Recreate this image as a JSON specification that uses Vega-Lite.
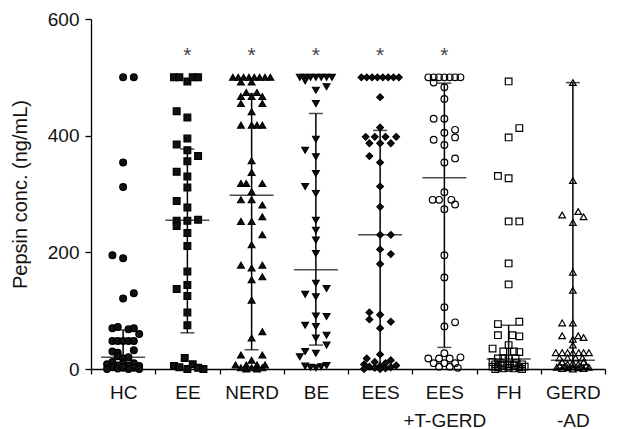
{
  "$schema": "https://vega.github.io/schema/vega-lite/v6.json",
  "autosize": {"type": "none"},
  "padding": {"left": 91, "top": 19, "right": 25, "bottom": 60},
  "width": 514,
  "height": 350,
  "background": "white",
  "config": {
    "view": {"stroke": null},
    "font": "Liberation Sans",
    "axis": {
      "domainColor": "black", "tickColor": "black", "labelColor": "#111", "titleColor": "#111",
      "labelFont": "Liberation Sans", "titleFont": "Liberation Sans",
      "labelFontSize": 19, "titleFontSize": 20, "titleFontWeight": "normal",
      "grid": false, "domainWidth": 1.3, "tickWidth": 1.3
    }
  },
  "datasets": {
    "pts": [
      {"g":"HC","v":500,"s":0},{"g":"HC","v":500,"s":2},{"g":"HC","v":354,"s":0},{"g":"HC","v":312,"s":0},
      {"g":"HC","v":195,"s":-2},{"g":"HC","v":190,"s":0},{"g":"HC","v":130,"s":2},{"g":"HC","v":121,"s":0},
      {"g":"HC","v":70,"s":-2},{"g":"HC","v":72,"s":-1},{"g":"HC","v":68,"s":1},{"g":"HC","v":70,"s":2},{"g":"HC","v":60,"s":3},
      {"g":"HC","v":48,"s":-2},{"g":"HC","v":48,"s":-1},{"g":"HC","v":48,"s":0},{"g":"HC","v":48,"s":1},{"g":"HC","v":48,"s":2},
      {"g":"HC","v":30,"s":-2},{"g":"HC","v":28,"s":-1},{"g":"HC","v":32,"s":2},{"g":"HC","v":22,"s":-1},{"g":"HC","v":18,"s":0},{"g":"HC","v":20,"s":1},
      {"g":"HC","v":12,"s":-2},{"g":"HC","v":10,"s":0},{"g":"HC","v":10,"s":2},{"g":"HC","v":8,"s":-3},{"g":"HC","v":6,"s":-1},{"g":"HC","v":6,"s":1},
      {"g":"HC","v":5,"s":3},{"g":"HC","v":3,"s":-2},{"g":"HC","v":2,"s":0},{"g":"HC","v":2,"s":2},{"g":"HC","v":1,"s":-1},{"g":"HC","v":0,"s":1},
      {"g":"HC","v":0,"s":-3},{"g":"HC","v":0,"s":3},{"g":"HC","v":4,"s":0},

      {"g":"EE","v":500,"s":-2.5},{"g":"EE","v":500,"s":-1.5},{"g":"EE","v":493,"s":0},{"g":"EE","v":500,"s":1},{"g":"EE","v":500,"s":2},
      {"g":"EE","v":442,"s":-2},{"g":"EE","v":431,"s":0},{"g":"EE","v":395,"s":0},{"g":"EE","v":385,"s":-2},{"g":"EE","v":375,"s":0},
      {"g":"EE","v":365,"s":2},{"g":"EE","v":356,"s":0},{"g":"EE","v":338,"s":-2},{"g":"EE","v":330,"s":0},{"g":"EE","v":311,"s":0},
      {"g":"EE","v":288,"s":-2},{"g":"EE","v":277,"s":0},{"g":"EE","v":254,"s":-2},{"g":"EE","v":254,"s":0},{"g":"EE","v":256,"s":2},
      {"g":"EE","v":245,"s":-2},{"g":"EE","v":233,"s":0},{"g":"EE","v":211,"s":0},{"g":"EE","v":167,"s":0},{"g":"EE","v":144,"s":0},
      {"g":"EE","v":137,"s":-2},{"g":"EE","v":125,"s":0},{"g":"EE","v":97,"s":0},{"g":"EE","v":75,"s":0},{"g":"EE","v":19,"s":-0.5},
      {"g":"EE","v":5,"s":-2.5},{"g":"EE","v":3,"s":-1.5},{"g":"EE","v":0,"s":0},{"g":"EE","v":8,"s":1},{"g":"EE","v":2,"s":2},{"g":"EE","v":0,"s":3},

      {"g":"NERD","v":500,"s":-3.5},{"g":"NERD","v":500,"s":-2.5},{"g":"NERD","v":500,"s":-1.5},{"g":"NERD","v":500,"s":-0.5},
      {"g":"NERD","v":500,"s":0.5},{"g":"NERD","v":500,"s":1.5},{"g":"NERD","v":500,"s":2.5},{"g":"NERD","v":500,"s":3.5},
      {"g":"NERD","v":492,"s":-2},{"g":"NERD","v":492,"s":0},{"g":"NERD","v":474,"s":-1},{"g":"NERD","v":474,"s":1},
      {"g":"NERD","v":467,"s":-2},{"g":"NERD","v":467,"s":0},{"g":"NERD","v":467,"s":2},{"g":"NERD","v":455,"s":-2},{"g":"NERD","v":455,"s":2},
      {"g":"NERD","v":441,"s":0},{"g":"NERD","v":418,"s":-2},{"g":"NERD","v":418,"s":0},{"g":"NERD","v":418,"s":1},{"g":"NERD","v":418,"s":2},
      {"g":"NERD","v":357,"s":0},{"g":"NERD","v":337,"s":0},{"g":"NERD","v":318,"s":-2},{"g":"NERD","v":318,"s":-1},{"g":"NERD","v":318,"s":2},
      {"g":"NERD","v":304,"s":0},{"g":"NERD","v":290,"s":-2},{"g":"NERD","v":290,"s":0},{"g":"NERD","v":281,"s":2},
      {"g":"NERD","v":261,"s":2},{"g":"NERD","v":253,"s":-2},{"g":"NERD","v":253,"s":0},{"g":"NERD","v":230,"s":2},{"g":"NERD","v":213,"s":0},
      {"g":"NERD","v":178,"s":-2},{"g":"NERD","v":178,"s":2},{"g":"NERD","v":173,"s":0},{"g":"NERD","v":158,"s":2},{"g":"NERD","v":153,"s":0},
      {"g":"NERD","v":118,"s":0},{"g":"NERD","v":64,"s":2},{"g":"NERD","v":53,"s":0},
      {"g":"NERD","v":24,"s":-2},{"g":"NERD","v":24,"s":2},{"g":"NERD","v":15,"s":0},{"g":"NERD","v":7,"s":-3},{"g":"NERD","v":7,"s":-1},
      {"g":"NERD","v":7,"s":1},{"g":"NERD","v":7,"s":2.5},{"g":"NERD","v":2,"s":-2},{"g":"NERD","v":2,"s":0},{"g":"NERD","v":2,"s":2},
      {"g":"NERD","v":0,"s":-1},{"g":"NERD","v":0,"s":1},

      {"g":"BE","v":500,"s":-3},{"g":"BE","v":500,"s":-2},{"g":"BE","v":500,"s":-1},{"g":"BE","v":500,"s":0},{"g":"BE","v":500,"s":1},
      {"g":"BE","v":500,"s":2},{"g":"BE","v":500,"s":3},{"g":"BE","v":494,"s":-2},{"g":"BE","v":484,"s":2},{"g":"BE","v":478,"s":0},
      {"g":"BE","v":455,"s":0},{"g":"BE","v":394,"s":0},{"g":"BE","v":375,"s":-2},{"g":"BE","v":364,"s":0},{"g":"BE","v":335,"s":0},
      {"g":"BE","v":313,"s":-2},{"g":"BE","v":301,"s":0},{"g":"BE","v":255,"s":0},{"g":"BE","v":238,"s":0},{"g":"BE","v":221,"s":0},
      {"g":"BE","v":198,"s":0},{"g":"BE","v":147,"s":0},{"g":"BE","v":138,"s":2},{"g":"BE","v":128,"s":-2},{"g":"BE","v":124,"s":0},
      {"g":"BE","v":91,"s":0},{"g":"BE","v":90,"s":2},{"g":"BE","v":75,"s":-2},{"g":"BE","v":73,"s":0},{"g":"BE","v":58,"s":2},
      {"g":"BE","v":53,"s":0},{"g":"BE","v":41,"s":2},{"g":"BE","v":30,"s":-2},{"g":"BE","v":27,"s":0},{"g":"BE","v":21,"s":-3},
      {"g":"BE","v":5,"s":-2},{"g":"BE","v":3,"s":-1},{"g":"BE","v":2,"s":0},{"g":"BE","v":4,"s":1},{"g":"BE","v":6,"s":2},

      {"g":"EES","v":500,"s":-3.5},{"g":"EES","v":500,"s":-2.5},{"g":"EES","v":500,"s":-1.5},{"g":"EES","v":500,"s":-0.5},
      {"g":"EES","v":500,"s":0.5},{"g":"EES","v":500,"s":1.5},{"g":"EES","v":500,"s":2.5},{"g":"EES","v":500,"s":3.5},
      {"g":"EES","v":466,"s":0},{"g":"EES","v":414,"s":0},{"g":"EES","v":398,"s":-2.7},{"g":"EES","v":398,"s":-1},{"g":"EES","v":398,"s":1},
      {"g":"EES","v":398,"s":3},{"g":"EES","v":387,"s":-2},{"g":"EES","v":387,"s":0},{"g":"EES","v":387,"s":2},{"g":"EES","v":365,"s":-2},
      {"g":"EES","v":354,"s":0},{"g":"EES","v":313,"s":0},{"g":"EES","v":278,"s":0},{"g":"EES","v":230,"s":0},{"g":"EES","v":230,"s":2},
      {"g":"EES","v":205,"s":0},{"g":"EES","v":197,"s":2},{"g":"EES","v":180,"s":0},{"g":"EES","v":97,"s":-2},{"g":"EES","v":93,"s":0},
      {"g":"EES","v":85,"s":-2},{"g":"EES","v":81,"s":2},{"g":"EES","v":70,"s":0},
      {"g":"EES","v":25,"s":0},{"g":"EES","v":18,"s":-2.5},{"g":"EES","v":15,"s":2},{"g":"EES","v":12,"s":-1},{"g":"EES","v":10,"s":1},
      {"g":"EES","v":8,"s":-3},{"g":"EES","v":6,"s":3},{"g":"EES","v":5,"s":0},{"g":"EES","v":4,"s":-2},{"g":"EES","v":3,"s":2},
      {"g":"EES","v":2,"s":-1},{"g":"EES","v":1,"s":1},{"g":"EES","v":0,"s":0},{"g":"EES","v":0,"s":-3},

      {"g":"EES +T-GERD","v":500,"s":-3},{"g":"EES +T-GERD","v":500,"s":-2},{"g":"EES +T-GERD","v":500,"s":-1},{"g":"EES +T-GERD","v":500,"s":0},
      {"g":"EES +T-GERD","v":500,"s":1},{"g":"EES +T-GERD","v":500,"s":2},{"g":"EES +T-GERD","v":500,"s":3},
      {"g":"EES +T-GERD","v":491,"s":-2},{"g":"EES +T-GERD","v":483,"s":0},{"g":"EES +T-GERD","v":463,"s":0},
      {"g":"EES +T-GERD","v":429,"s":-2},{"g":"EES +T-GERD","v":429,"s":0},{"g":"EES +T-GERD","v":410,"s":2},{"g":"EES +T-GERD","v":405,"s":0},
      {"g":"EES +T-GERD","v":397,"s":2},{"g":"EES +T-GERD","v":393,"s":-2},{"g":"EES +T-GERD","v":384,"s":0},{"g":"EES +T-GERD","v":361,"s":2},
      {"g":"EES +T-GERD","v":354,"s":0},{"g":"EES +T-GERD","v":303,"s":0},{"g":"EES +T-GERD","v":290,"s":-2.2},{"g":"EES +T-GERD","v":290,"s":-1},
      {"g":"EES +T-GERD","v":290,"s":1.3},{"g":"EES +T-GERD","v":282,"s":2},{"g":"EES +T-GERD","v":274,"s":0},{"g":"EES +T-GERD","v":195,"s":0},
      {"g":"EES +T-GERD","v":157,"s":0},{"g":"EES +T-GERD","v":106,"s":0},{"g":"EES +T-GERD","v":80,"s":2},{"g":"EES +T-GERD","v":73,"s":0},
      {"g":"EES +T-GERD","v":27,"s":0},{"g":"EES +T-GERD","v":18,"s":-3},{"g":"EES +T-GERD","v":18,"s":-1},{"g":"EES +T-GERD","v":18,"s":1},
      {"g":"EES +T-GERD","v":10,"s":-2},{"g":"EES +T-GERD","v":10,"s":0},{"g":"EES +T-GERD","v":10,"s":2},{"g":"EES +T-GERD","v":4,"s":-1},
      {"g":"EES +T-GERD","v":4,"s":1},{"g":"EES +T-GERD","v":2,"s":2.5},{"g":"EES +T-GERD","v":20,"s":3},

      {"g":"FH","v":493,"s":0},{"g":"FH","v":413,"s":2},{"g":"FH","v":397,"s":0},{"g":"FH","v":331,"s":-2},{"g":"FH","v":327,"s":0},
      {"g":"FH","v":253,"s":0},{"g":"FH","v":253,"s":2},{"g":"FH","v":181,"s":0},{"g":"FH","v":145,"s":0},
      {"g":"FH","v":81,"s":2},{"g":"FH","v":77,"s":-2},{"g":"FH","v":58,"s":-2},{"g":"FH","v":58,"s":0.7},{"g":"FH","v":56,"s":2},
      {"g":"FH","v":41,"s":0},{"g":"FH","v":35,"s":-3},{"g":"FH","v":30,"s":-1},{"g":"FH","v":30,"s":1},{"g":"FH","v":29,"s":2},
      {"g":"FH","v":18,"s":-2},{"g":"FH","v":18,"s":-1},{"g":"FH","v":18,"s":0},{"g":"FH","v":18,"s":1.3},
      {"g":"FH","v":12,"s":-3},{"g":"FH","v":10,"s":-1.5},{"g":"FH","v":10,"s":1.5},{"g":"FH","v":8,"s":-2.5},{"g":"FH","v":8,"s":0},
      {"g":"FH","v":8,"s":2.5},{"g":"FH","v":6,"s":-1},{"g":"FH","v":6,"s":1},{"g":"FH","v":4,"s":-3},{"g":"FH","v":4,"s":3},
      {"g":"FH","v":3,"s":-2},{"g":"FH","v":3,"s":2},{"g":"FH","v":2,"s":0},{"g":"FH","v":1,"s":-1},{"g":"FH","v":1,"s":1},
      {"g":"FH","v":0,"s":-2.5},{"g":"FH","v":0,"s":2.5},

      {"g":"GERD -AD","v":491,"s":0},{"g":"GERD -AD","v":323,"s":0},{"g":"GERD -AD","v":270,"s":1},{"g":"GERD -AD","v":264,"s":-2},
      {"g":"GERD -AD","v":261,"s":2},{"g":"GERD -AD","v":251,"s":0},{"g":"GERD -AD","v":166,"s":0},{"g":"GERD -AD","v":135,"s":0},
      {"g":"GERD -AD","v":79,"s":-2},{"g":"GERD -AD","v":79,"s":0},{"g":"GERD -AD","v":57,"s":-2},{"g":"GERD -AD","v":57,"s":1},
      {"g":"GERD -AD","v":54,"s":2},{"g":"GERD -AD","v":51,"s":0},{"g":"GERD -AD","v":41,"s":0},
      {"g":"GERD -AD","v":28,"s":-3.2},{"g":"GERD -AD","v":28,"s":-2},{"g":"GERD -AD","v":28,"s":-1},{"g":"GERD -AD","v":28,"s":0},
      {"g":"GERD -AD","v":28,"s":1.1},{"g":"GERD -AD","v":28,"s":2},{"g":"GERD -AD","v":28,"s":3},
      {"g":"GERD -AD","v":19,"s":-2.5},{"g":"GERD -AD","v":19,"s":-1},{"g":"GERD -AD","v":19,"s":0.5},{"g":"GERD -AD","v":19,"s":1.8},
      {"g":"GERD -AD","v":12,"s":-2},{"g":"GERD -AD","v":12,"s":2},{"g":"GERD -AD","v":10,"s":0},{"g":"GERD -AD","v":8,"s":-1},
      {"g":"GERD -AD","v":8,"s":1},{"g":"GERD -AD","v":6,"s":-2.5},{"g":"GERD -AD","v":6,"s":2.5},{"g":"GERD -AD","v":5,"s":-1.5},
      {"g":"GERD -AD","v":4,"s":0},{"g":"GERD -AD","v":4,"s":1.5},{"g":"GERD -AD","v":3,"s":-3},{"g":"GERD -AD","v":3,"s":3},
      {"g":"GERD -AD","v":2,"s":-1},{"g":"GERD -AD","v":2,"s":1},{"g":"GERD -AD","v":1,"s":-2},{"g":"GERD -AD","v":1,"s":2},{"g":"GERD -AD","v":0,"s":0}
    ],
    "stats": [
      {"g":"HC","med":20,"lo":2,"hi":67},
      {"g":"EE","med":255,"lo":62,"hi":377,"star":537},
      {"g":"NERD","med":298,"lo":33,"hi":472,"star":537},
      {"g":"BE","med":170,"lo":41,"hi":438,"star":537},
      {"g":"EES","med":230,"lo":5,"hi":409,"star":537},
      {"g":"EES +T-GERD","med":328,"lo":37,"hi":490,"star":537},
      {"g":"FH","med":17,"lo":3,"hi":75},
      {"g":"GERD -AD","med":15,"lo":2,"hi":491}
    ]
  },
  "encoding": {
    "x": {
      "field": "g", "type": "nominal",
      "sort": ["HC","EE","NERD","BE","EES","EES +T-GERD","FH","GERD -AD"],
      "scale": {"type": "band", "paddingInner": 0, "paddingOuter": 0},
      "axis": {"title": null, "labelAngle": 0, "tickBand": "extent", "tickSize": 5, "labelPadding": 9,
               "labelExpr": "split(datum.label, ' ')", "labelLineHeight": 28, "labelBaseline": "top"}
    }
  },
  "layer": [
    {
      "data": {"name": "stats"},
      "mark": {"type": "rule", "color": "black", "strokeWidth": 1.5},
      "encoding": {
        "y": {"field": "lo", "type": "quantitative", "title": "Pepsin conc. (ng/mL)",
              "scale": {"domain": [0, 600]},
              "axis": {"values": [0, 200, 400, 600], "tickSize": 6, "labelPadding": 6,
                       "titleX": -71, "titleY": 175, "titleAngle": 270, "titleAlign": "center", "titleBaseline": "middle"}},
        "y2": {"field": "hi"}
      }
    },
    {
      "data": {"name": "stats"},
      "mark": {"type": "tick", "color": "black", "size": 44, "thickness": 1.5, "orient": "horizontal"},
      "encoding": {"y": {"field": "med", "type": "quantitative", "title": "Pepsin conc. (ng/mL)"}}
    },
    {
      "data": {"name": "stats"},
      "mark": {"type": "tick", "color": "black", "size": 14, "thickness": 1.5, "orient": "horizontal"},
      "encoding": {"y": {"field": "hi", "type": "quantitative", "title": "Pepsin conc. (ng/mL)"}}
    },
    {
      "data": {"name": "stats"},
      "mark": {"type": "tick", "color": "black", "size": 14, "thickness": 1.5, "orient": "horizontal"},
      "encoding": {"y": {"field": "lo", "type": "quantitative", "title": "Pepsin conc. (ng/mL)"}}
    },
    {
      "data": {"name": "pts"},
      "mark": {"type": "point", "filled": true, "stroke": "black", "strokeWidth": 1.2, "opacity": 1},
      "encoding": {
        "xOffset": {"field": "s", "type": "quantitative", "scale": {"domain": [-6, 6]}},
        "y": {"field": "v", "type": "quantitative", "title": "Pepsin conc. (ng/mL)"},
        "shape": {"field": "g", "type": "nominal", "legend": null,
                  "scale": {"domain": ["HC","EE","NERD","BE","EES","EES +T-GERD","FH","GERD -AD"],
                            "range": ["circle","square","triangle-up","triangle-down","diamond","circle","square","triangle-up"]}},
        "fill": {"field": "g", "type": "nominal", "legend": null,
                 "scale": {"domain": ["HC","EE","NERD","BE","EES","EES +T-GERD","FH","GERD -AD"],
                           "range": ["#111","#111","#111","#111","#111","transparent","transparent","transparent"]}},
        "size": {"field": "g", "type": "nominal", "legend": null,
                 "scale": {"domain": ["HC","EE","NERD","BE","EES","EES +T-GERD","FH","GERD -AD"],
                           "range": [46, 44, 62, 62, 80, 40, 40, 50]}}
      }
    },
    {
      "data": {"name": "stats"},
      "transform": [{"filter": "isValid(datum.star)"}],
      "mark": {"type": "text", "text": "*", "fontSize": 21, "color": "#444", "baseline": "middle", "align": "center"},
      "encoding": {"y": {"field": "star", "type": "quantitative", "title": "Pepsin conc. (ng/mL)"}}
    }
  ]
}
